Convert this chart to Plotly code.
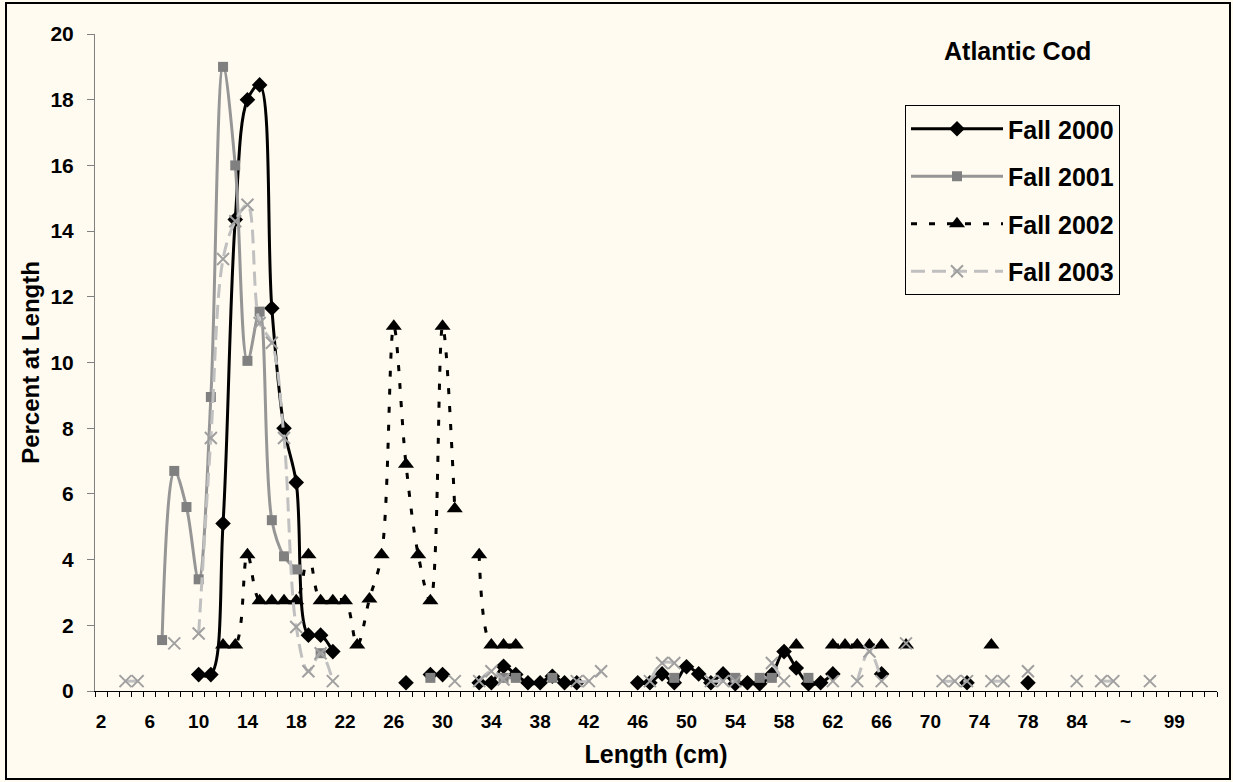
import plotly.graph_objects as go

# ---------------- data ----------------
# category axis (lengths, cm); only every 4th category is labelled
base_lengths = [str(v) for v in range(2, 79)]
extra_lengths = ["79", "80", "82", "84", "85", "86", "88", "~", "90", "92", "95", "99", "100", "101", "102"]
categories = base_lengths + extra_lengths
tick_labels = [c if i % 4 == 0 else "" for i, c in enumerate(categories)]

f2000_len = ["10", "11", "12", "13", "14", "15", "16", "17", "18", "19", "20", "21",
             "27", "29", "30",
             "33", "34", "35", "36", "37", "38", "39", "40", "41",
             "46", "47", "48", "49", "50", "51", "52", "53", "54", "55", "56", "57", "58", "59", "60", "61", "62",
             "66", "73", "78"]
f2000_pct = [0.5, 0.5, 5.1, 14.35, 18.0, 18.45, 11.65, 8.0, 6.35, 1.7, 1.7, 1.2,
             0.25, 0.5, 0.5,
             0.25, 0.25, 0.75, 0.5, 0.25, 0.25, 0.45, 0.25, 0.25,
             0.25, 0.25, 0.52, 0.25, 0.74, 0.52, 0.25, 0.52, 0.22, 0.25, 0.22, 0.5, 1.2, 0.7, 0.22, 0.25, 0.52,
             0.52, 0.25, 0.25]

f2001_len = ["7", "8", "9", "10", "11", "12", "13", "14", "15", "16", "17", "18",
             "20", "29", "35", "36", "39", "49", "54", "56", "57", "60"]
f2001_pct = [1.55, 6.7, 5.6, 3.4, 8.95, 19.0, 16.0, 10.05, 11.55, 5.2, 4.1, 3.7,
             1.15, 0.4, 0.4, 0.4, 0.4, 0.4, 0.4, 0.4, 0.4, 0.4]

f2002_len = ["12", "13", "14", "15", "16", "17", "18", "19", "20", "21", "22", "23", "24", "25",
             "26", "27", "28", "29", "30", "31",
             "33", "34", "35", "36",
             "59", "62", "63", "64", "65", "66", "68", "75"]
f2002_pct = [1.4, 1.4, 4.15, 2.75, 2.75, 2.75, 2.75, 4.15, 2.75, 2.75, 2.75, 1.4, 2.8, 4.15,
             11.1, 6.9, 4.15, 2.75, 11.1, 5.55,
             4.15, 1.4, 1.4, 1.4,
             1.4, 1.4, 1.4, 1.4, 1.4, 1.4, 1.4, 1.4]

f2003_len = ["4", "5", "8", "10", "11", "12", "13", "14", "15", "16", "17", "18", "19", "20", "21",
             "31", "33", "34", "35", "41", "42", "43", "47", "48", "49", "52", "53", "54",
             "57", "58", "62", "64", "65", "66", "68", "71", "72", "73", "75", "76", "78",
             "84", "86", "88", "92"]
f2003_pct = [0.3, 0.3, 1.45, 1.75, 7.7, 13.15, 14.3, 14.8, 11.2, 10.6, 7.7, 1.95, 0.6, 1.15, 0.3,
             0.3, 0.3, 0.6, 0.35, 0.3, 0.3, 0.6, 0.3, 0.85, 0.85, 0.3, 0.3, 0.3,
             0.85, 0.3, 0.3, 0.3, 1.2, 0.3, 1.45, 0.3, 0.3, 0.3, 0.3, 0.3, 0.6,
             0.3, 0.3, 0.3, 0.3]

series_names = ["Fall 2000", "Fall 2001", "Fall 2002", "Fall 2003"]


def full_series(lengths, values):
    lookup = dict(zip(lengths, values))
    return [lookup.get(c) for c in categories]


# ---------------- figure ----------------
BG = "#FFFBF0"
FONT = "Arial, 'Liberation Sans', sans-serif"

styles = [
    dict(line=dict(color="#000000", width=3, shape="spline", smoothing=1),
         marker=dict(symbol="diamond", size=12, color="#000000")),
    dict(line=dict(color="#969696", width=3, shape="spline", smoothing=1),
         marker=dict(symbol="square", size=10, color="#808080")),
    dict(line=dict(color="#000000", width=3, shape="spline", smoothing=1, dash="6px,12px"),
         marker=dict(symbol="triangle-up", size=14, color="#000000")),
    dict(line=dict(color="#C0C0C0", width=3, shape="spline", smoothing=1, dash="14px,7px"),
         marker=dict(symbol="x-thin-open", size=12, color="#A0A0A0", line=dict(width=2, color="#A0A0A0"))),
]

data = [(f2000_len, f2000_pct), (f2001_len, f2001_pct), (f2002_len, f2002_pct), (f2003_len, f2003_pct)]

fig = go.Figure()
for name, (lens, vals), st in zip(series_names, data, styles):
    fig.add_trace(go.Scatter(
        x=categories, y=full_series(lens, vals), name=name, mode="lines+markers",
        connectgaps=False, legendgroup=name, **st))

plot_l, plot_r, plot_t, plot_b = 95, 1217, 34, 691
pw, ph = plot_r - plot_l, plot_b - plot_t

fig.update_layout(
    width=1233, height=782,
    paper_bgcolor=BG, plot_bgcolor=BG,
    margin=dict(l=plot_l, r=1233 - plot_r, t=plot_t, b=782 - plot_b, autoexpand=False),
    font=dict(family=FONT, color="#000000", size=19),
    showlegend=True,
    legend=dict(
        x=(905 - plot_l) / pw, y=(plot_b - 105) / ph, xanchor="left", yanchor="top",
        bgcolor=BG, bordercolor="#000000", borderwidth=1,
        font=dict(family=FONT, size=25, color="#000000", weight="bold"),
        itemwidth=92, traceorder="grouped", tracegroupgap=12,
    ),
    annotations=[dict(
        text="<b>Atlantic Cod</b>", x=(1017 - plot_l) / pw, y=(plot_b - 51) / ph,
        xref="paper", yref="paper", xanchor="center", yanchor="middle",
        showarrow=False, font=dict(family=FONT, size=25, color="#000000"),
    )],
)

# outer frame
fig.add_shape(type="rect", xref="paper", yref="paper",
              x0=(6 - plot_l) / pw, x1=(1230 - plot_l) / pw,
              y0=(plot_b - 779) / ph, y1=(plot_b - 3) / ph,
              line=dict(color="#000000", width=2), fillcolor="rgba(0,0,0,0)", layer="above")

fig.update_xaxes(
    type="category", categoryorder="array", categoryarray=categories,
    range=[-0.5, len(categories) - 0.5],
    tickmode="array", tickvals=categories, ticktext=tick_labels, tickangle=0,
    tickson="boundaries", ticks="outside", ticklen=5, tickcolor="#000000", tickwidth=1,
    showline=True, linecolor="#000000", linewidth=1, showgrid=False, zeroline=False,
    tickfont=dict(family=FONT, size=19, color="#000000", weight="bold"),
    ticklabelstandoff=13,
    title=dict(text="<b>Length (cm)</b>", font=dict(family=FONT, size=25, color="#000000"), standoff=14),
)
fig.update_yaxes(
    range=[0, 20], dtick=2, tick0=0,
    ticks="outside", ticklen=7, tickcolor="#808080", tickwidth=1,
    showline=True, linecolor="#808080", linewidth=1, showgrid=False, zeroline=False,
    tickfont=dict(family=FONT, size=21, color="#000000", weight="bold"),
    ticklabelstandoff=9,
    title=dict(text="<b>Percent at Length</b>", font=dict(family=FONT, size=24, color="#000000"), standoff=4),
)

fig.write_html("out.html", config={"displayModeBar": False},
               post_script="document.body.style.margin='0px';")
